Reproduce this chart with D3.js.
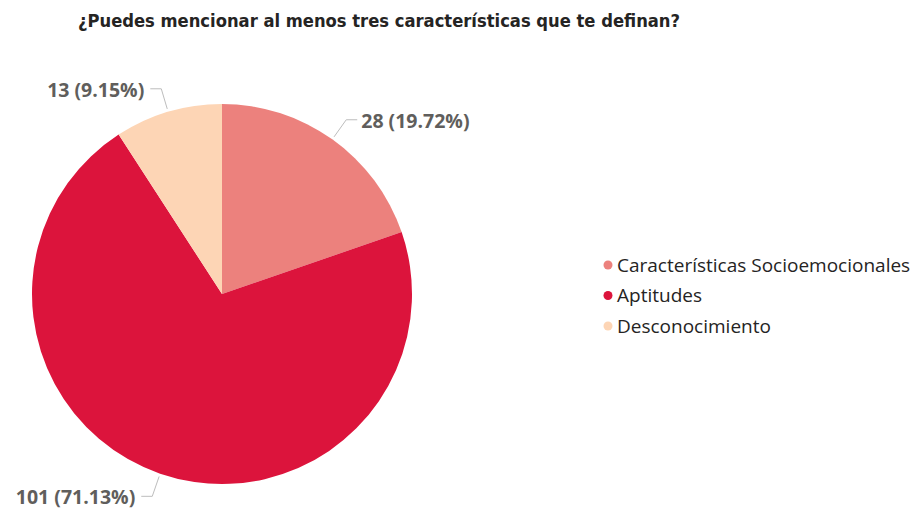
<!DOCTYPE html>
<html>
<head>
<meta charset="utf-8">
<script src="https://cdn.jsdelivr.net/npm/d3@7"></script>
<style>
  body { margin: 0; background: #fff; }
</style>
</head>
<body>
<script>
// data
var categories = ["Características Socioemocionales", "Aptitudes", "Desconocimiento"];
var counts = [28, 101, 13];
var percentLabels = ["19.72%", "71.13%", "9.15%"];
var colors = ["#ec817d", "#dc143c", "#fdd5b5"];
var title = "¿Puedes mencionar al menos tres características que te definan?";

var width = 913, height = 509;
var cx = 222, cy = 294, radius = 190;

var svg = d3.select("body").append("svg")
    .attr("width", width)
    .attr("height", height);

// title
svg.append("text")
    .attr("x", 78)
    .attr("y", 27)
    .attr("font-family", "'DejaVu Sans Condensed', 'DejaVu Sans', sans-serif")
    .attr("font-weight", "bold")
    .attr("font-size", 17)
    .attr("fill", "#252423")
    .attr("textLength", 602)
    .attr("lengthAdjust", "spacingAndGlyphs")
    .text(title);

var data = categories.map(function(c, i) {
  return {name: c, value: counts[i], pct: percentLabels[i], color: colors[i]};
});

var pie = d3.pie()
    .sort(null)
    .value(function(d) { return d.value; });

var arc = d3.arc()
    .innerRadius(0)
    .outerRadius(radius);

var arcs = pie(data);

var g = svg.append("g")
    .attr("transform", "translate(" + cx + "," + cy + ")");

g.selectAll("path.slice")
    .data(arcs)
  .enter().append("path")
    .attr("class", "slice")
    .attr("d", arc)
    .attr("fill", function(d) { return d.data.color; });

// leader lines + labels
var startArc = d3.arc().innerRadius(193).outerRadius(193);
var elbowArc = d3.arc().innerRadius(214).outerRadius(214);

arcs.forEach(function(d) {
  var mid = (d.startAngle + d.endAngle) / 2;
  var p0 = startArc.centroid(d);
  var p1 = elbowArc.centroid(d);
  var right = Math.sin(mid) > 0;
  var p2 = [p1[0] + (right ? 11 : -11), p1[1]];
  g.append("polyline")
      .attr("points", [p0, p1, p2].map(function(p) { return p.join(","); }).join(" "))
      .attr("fill", "none")
      .attr("stroke", "#bdbdbd")
      .attr("stroke-width", 1);
  // bottom label is pushed up a bit so it stays inside the frame
  var ty = p2[1] + 1;
  if (ty > 480) ty = 490;
  g.append("text")
      .attr("x", p2[0] + (right ? 4 : -6))
      .attr("y", ty)
      .attr("dy", "0.35em")
      .attr("text-anchor", right ? "start" : "end")
      .attr("font-family", "'Open Sans', sans-serif")
      .attr("font-weight", "bold")
      .attr("font-size", 19.5)
      .attr("fill", "#605e5c")
      .text(d.data.value + " (" + d.data.pct + ")");
});

// legend
var legendY = d3.scalePoint()
    .domain(categories)
    .range([265, 326]);

var legend = svg.append("g");
var items = legend.selectAll("g.item")
    .data(data)
  .enter().append("g")
    .attr("class", "item")
    .attr("transform", function(d) { return "translate(608," + legendY(d.name) + ")"; });

items.append("circle")
    .attr("r", 4.5)
    .attr("fill", function(d) { return d.color; });

items.append("text")
    .attr("x", 9)
    .attr("dy", "0.35em")
    .attr("font-family", "'Open Sans', 'Noto Sans', sans-serif")
    .attr("font-size", 19)
    .attr("fill", "#252423")
    .text(function(d) { return d.name; });
</script>
</body>
</html>
